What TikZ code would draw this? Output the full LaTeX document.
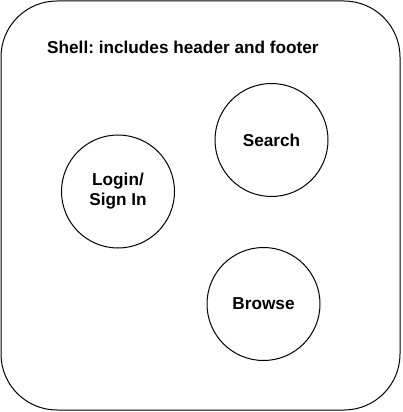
\documentclass[tikz,border=0pt]{standalone}
\usepackage{fontspec}
\setmainfont{Liberation Sans}
\frenchspacing
\begin{document}
\begin{tikzpicture}[x=1pt, y=-1pt, font=\fontsize{17.2}{20}\selectfont\bfseries, line join=round, line cap=round]
\tikzset{page/.style={circle, draw, line width=1pt, minimum size=113pt, inner sep=0pt, align=center}}
\useasboundingbox (0,0) rectangle (402,412);
\node[draw, line width=1pt, rounded corners=56pt, minimum width=399pt, minimum height=409pt] (shell) at (200.5,205.5) {};
\node[anchor=base west, inner sep=0pt] (title) at (47,54) {Shell: includes header and footer};
\node[page] (search) at (271.5,140) {Search};
\node[page] (login) at (118,191.5) {Login/\\Sign In};
\node[page] (browse) at (263.5,304) {Browse};
\end{tikzpicture}
\end{document}
